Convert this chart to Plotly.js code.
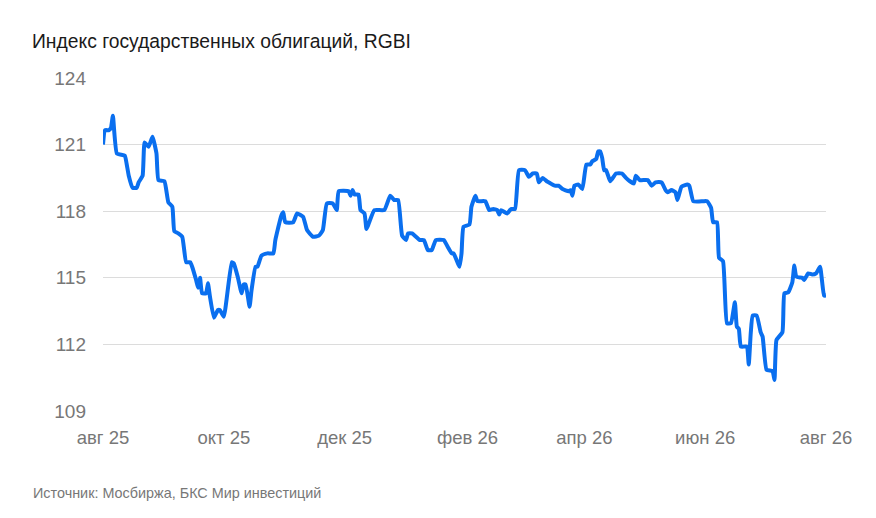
<!DOCTYPE html>
<html>
<head>
<meta charset="utf-8">
<script src="https://cdn.plot.ly/plotly-3.0.1.min.js"></script>
<style>
html,body{margin:0;padding:0;background:#fff;}
#chart{width:876px;height:518px;}
</style>
</head>
<body>
<div id="chart"></div>
<script>
const dates = [
"2025-08-01","2025-08-02","2025-08-04","2025-08-05","2025-08-06","2025-08-08","2025-08-12","2025-08-13","2025-08-14","2025-08-16",
"2025-08-18","2025-08-19","2025-08-21","2025-08-22","2025-08-24","2025-08-26","2025-08-28","2025-08-29","2025-09-01","2025-09-03",
"2025-09-05","2025-09-06","2025-09-08","2025-09-10","2025-09-12","2025-09-14","2025-09-15","2025-09-17","2025-09-18","2025-09-19",
"2025-09-20","2025-09-22","2025-09-23","2025-09-24","2025-09-26","2025-09-28","2025-09-29","2025-10-01","2025-10-05","2025-10-06",
"2025-10-08","2025-10-10","2025-10-11","2025-10-12","2025-10-14","2025-10-15","2025-10-17","2025-10-18","2025-10-20","2025-10-23",
"2025-10-26","2025-10-27","2025-10-30","2025-10-31","2025-11-01","2025-11-05","2025-11-07","2025-11-10","2025-11-12","2025-11-15",
"2025-11-18","2025-11-20","2025-11-22","2025-11-25","2025-11-27","2025-11-28","2025-12-03","2025-12-04","2025-12-05","2025-12-06",
"2025-12-08","2025-12-09","2025-12-11","2025-12-12","2025-12-13","2025-12-16","2025-12-21","2025-12-24","2025-12-26","2025-12-28",
"2025-12-30","2026-01-01","2026-01-02","2026-01-04","2026-01-08","2026-01-10","2026-01-12","2026-01-14","2026-01-16","2026-01-20",
"2026-01-22","2026-01-24","2026-01-25","2026-01-28","2026-01-29","2026-01-30","2026-02-02","2026-02-03","2026-02-05","2026-02-06",
"2026-02-10","2026-02-12","2026-02-14","2026-02-16","2026-02-17","2026-02-18","2026-02-21","2026-02-23","2026-02-25","2026-02-27",
"2026-03-02","2026-03-04","2026-03-06","2026-03-08","2026-03-09","2026-03-11","2026-03-13","2026-03-14","2026-03-17","2026-03-19",
"2026-03-21","2026-03-24","2026-03-25","2026-03-26","2026-03-27","2026-03-29","2026-03-31","2026-04-02","2026-04-04","2026-04-05",
"2026-04-07","2026-04-08","2026-04-09","2026-04-10","2026-04-11","2026-04-12","2026-04-14","2026-04-15","2026-04-17","2026-04-20",
"2026-04-22","2026-04-24","2026-04-26","2026-04-27","2026-04-29","2026-05-03","2026-05-05","2026-05-07","2026-05-10","2026-05-12",
"2026-05-13","2026-05-15","2026-05-17","2026-05-18","2026-05-20","2026-05-23","2026-05-24","2026-05-26","2026-05-31","2026-06-02",
"2026-06-04","2026-06-05","2026-06-07","2026-06-08","2026-06-10","2026-06-12","2026-06-14","2026-06-16","2026-06-17","2026-06-18",
"2026-06-19","2026-06-22","2026-06-23","2026-06-24","2026-06-25","2026-06-27","2026-06-29","2026-06-30","2026-07-02","2026-07-05",
"2026-07-06","2026-07-07","2026-07-10","2026-07-11","2026-07-13","2026-07-15","2026-07-16","2026-07-17","2026-07-20","2026-07-21",
"2026-07-23","2026-07-25","2026-07-27","2026-07-29","2026-07-31","2026-08-01"
];
const rgbi = [
121.0,121.65,121.65,121.75,122.3,120.6,120.5,120.1,119.6,119.05,
119.05,119.3,119.6,121.1,120.9,121.35,120.6,119.4,119.35,118.4,
118.2,117.1,117.0,116.85,115.7,115.7,115.5,114.9,114.55,115.0,
114.3,114.3,114.75,114.15,113.2,113.55,113.55,113.25,115.7,115.65,
115.05,114.3,114.7,114.7,113.7,114.45,115.5,115.5,116.0,116.1,
116.1,116.7,117.8,117.95,117.5,117.5,117.9,117.75,117.15,116.85,
116.9,117.15,118.35,118.35,118.05,118.9,118.9,118.7,118.95,118.75,
118.75,118.05,117.9,117.2,117.4,118.05,118.05,118.7,118.5,118.5,
116.9,116.7,117.0,117.0,116.7,116.7,116.25,116.25,116.7,116.7,
116.4,116.1,116.1,115.5,116.1,117.3,117.4,118.2,118.7,118.45,
118.45,118.05,118.1,118.05,117.85,118.05,117.9,118.1,118.1,119.85,
119.85,119.55,119.7,119.7,119.3,119.5,119.35,119.3,119.15,119.15,
119.0,118.9,118.95,118.7,119.15,119.2,119.0,120.1,120.1,120.25,
120.35,120.7,120.7,120.4,119.85,119.85,119.35,119.45,119.7,119.7,
119.5,119.35,119.25,119.6,119.4,119.4,119.15,119.3,119.3,118.95,
118.85,118.95,118.85,118.5,119.1,119.2,119.15,118.45,118.45,118.45,
118.15,117.5,117.5,115.9,115.75,112.95,112.95,113.9,112.8,112.7,
111.9,111.9,111.1,112.5,113.3,113.3,112.55,112.35,110.85,110.8,
110.4,112.2,112.55,114.3,114.35,114.8,115.55,115.05,115.0,114.9,
115.2,115.15,115.2,115.5,114.2,114.2
];
const tickDates = ["2025-08-01","2025-10-01","2025-12-01","2026-02-01","2026-04-01","2026-06-01","2026-08-01"];
const tickLabels = ["авг 25","окт 25","дек 25","фев 26","апр 26","июн 26","авг 26"];
const yTicks = [109,112,115,118,121,124];
const titleText = "Индекс государственных облигаций, RGBI";
const sourceText = "Источник: Мосбиржа, БКС Мир инвестиций";

const trace = {
  x: dates, y: rgbi, type: "scatter", mode: "lines",
  line: {color: "#0a6fef", width: 4, shape: "spline", smoothing: 0.4},
  hoverinfo: "skip"
};
const layout = {
  width: 876, height: 518,
  margin: {l: 103, r: 50, t: 78, b: 107},
  paper_bgcolor: "#fff", plot_bgcolor: "#fff",
  font: {family: "Liberation Sans, Arial, sans-serif", color: "#777"},
  showlegend: false,
  title: {text: titleText, xref: "container", yref: "container", x: 32/876, xanchor: "left",
          y: 1 - 41/518, yanchor: "middle", font: {size: 19.3, color: "#1a1a1a"}},
  xaxis: {type: "date", range: ["2025-08-01", "2026-08-01"], tickvals: tickDates, ticktext: tickLabels,
          showgrid: false, zeroline: false, showline: false, ticks: "", tickfont: {size: 18.5, color: "#777"},
          ticklabelstandoff: 13, fixedrange: true},
  yaxis: {range: [109, 124], tickvals: yTicks, showgrid: true, gridcolor: "#dcdcdc", gridwidth: 1,
          zeroline: false, showline: false, ticks: "", tickfont: {size: 19, color: "#777"},
          ticklabelstandoff: 16, fixedrange: true},
  annotations: [{text: sourceText, xref: "paper", yref: "paper", x: -72/723, y: -82/333,
                 xanchor: "left", yanchor: "middle", showarrow: false, font: {size: 14.4, color: "#777"}}]
};
Plotly.newPlot("chart", [trace], layout, {displayModeBar: false, staticPlot: true});
</script>
</body>
</html>
